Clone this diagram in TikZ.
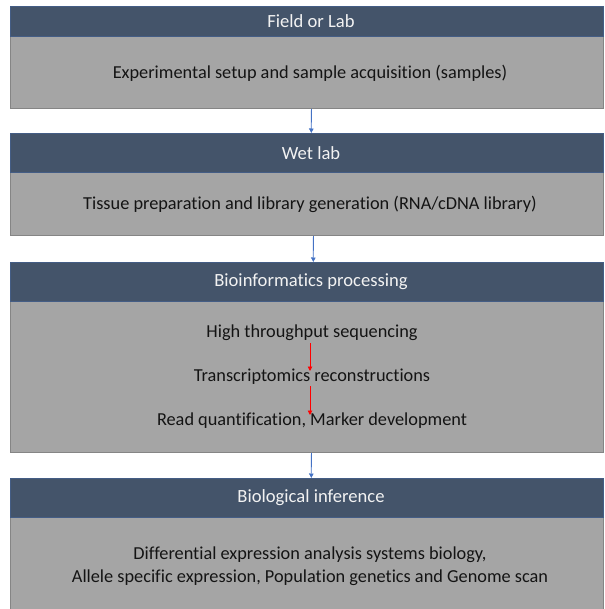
\documentclass[tikz,border=0pt]{standalone}
\usepackage{fontspec}
\setmainfont{Carlito}[Ligatures=NoCommon]
\usetikzlibrary{arrows.meta,calc}
\definecolor{hdr}{HTML}{44546A}
\definecolor{bdy}{HTML}{A5A5A5}
\definecolor{bdyline}{HTML}{858585}
\definecolor{bln}{HTML}{4472C4}
\definecolor{txt}{HTML}{141414}
\begin{document}
\begin{tikzpicture}[x=1pt,y=-1pt,
  hdrbox/.style={rectangle, anchor=north west, fill=hdr, draw=hdr!70!bln, line width=0.6pt, minimum width=593pt, inner sep=0pt},
  bdybox/.style={rectangle, anchor=north west, fill=bdy, draw=bdyline, line width=0.8pt, minimum width=593pt, inner sep=0pt},
  hdrtxt/.style={text=white!95!black, font=\fontsize{18.6}{22}\selectfont, inner sep=0pt},
  bdytxt/.style={text=txt, font=\fontsize{18.3}{23}\selectfont, inner sep=0pt, align=center},
  bluearrow/.style={draw=bln, line width=0.8pt, -{Triangle[length=4.5pt,width=4.5pt]}},
  redarrow/.style={draw=red, line width=0.9pt, -{Triangle[length=4.5pt,width=4.5pt]}}
]
\useasboundingbox (0,0) rectangle (604,609);
\clip (0,0) rectangle (604,609);
% box 1
\node[bdybox, minimum height=72pt] (b1) at (10,36) {};
\node[hdrbox, minimum height=30pt] (h1) at (10,6) {};
% box 2
\node[bdybox, minimum height=63pt] (b2) at (10,172) {};
\node[hdrbox, minimum height=39pt] (h2) at (10,133) {};
% box 3
\node[bdybox, minimum height=151pt] (b3) at (10,301) {};
\node[hdrbox, minimum height=39pt] (h3) at (10,262) {};
% box 4
\node[bdybox, minimum height=100pt] (b4) at (10,517) {};
\node[hdrbox, minimum height=39pt] (h4) at (10,478) {};
% header texts
\node[hdrtxt] (ht1) at (311,21) {Field or Lab};
\node[hdrtxt] (ht2) at (311,153) {Wet lab};
\node[hdrtxt] (ht3) at (311,282) {Bioinformatics processing};
\node[hdrtxt] (ht4) at (311,498) {Biological inference};
% body texts
\node[bdytxt] (t1) at (310,73) {Experimental setup and sample acquisition (samples)};
\node[bdytxt] (t2) at (310,204) {Tissue preparation and library generation (RNA/cDNA library)};
\node[bdytxt] (t3a) at (312,333) {High throughput sequencing};
\node[bdytxt] (t3b) at (312,377) {Transcriptomics reconstructions};
\node[bdytxt] (t3c) at (312,421) {Read quantification, Marker development};
\node[bdytxt] (t4) at (310,566) {Differential expression analysis systems biology,\\Allele specific expression, Population genetics and Genome scan};
% blue connectors
\draw[bluearrow] ([xshift=4.5pt]b1.south) -- ([xshift=4.5pt]h2.north);
\draw[bluearrow] ([xshift=6.5pt]b2.south) -- ([xshift=6.5pt]h3.north);
\draw[bluearrow] ([xshift=4.5pt]b3.south) -- ([xshift=4.5pt]h4.north);
% red connectors
\draw[redarrow] ($(t3a.center)+(-2,10)$) -- ($(t3b.center)+(-2,-6)$);
\draw[redarrow] ($(t3b.center)+(-2,9)$) -- ($(t3c.center)+(-2,-6)$);
\end{tikzpicture}
\end{document}
